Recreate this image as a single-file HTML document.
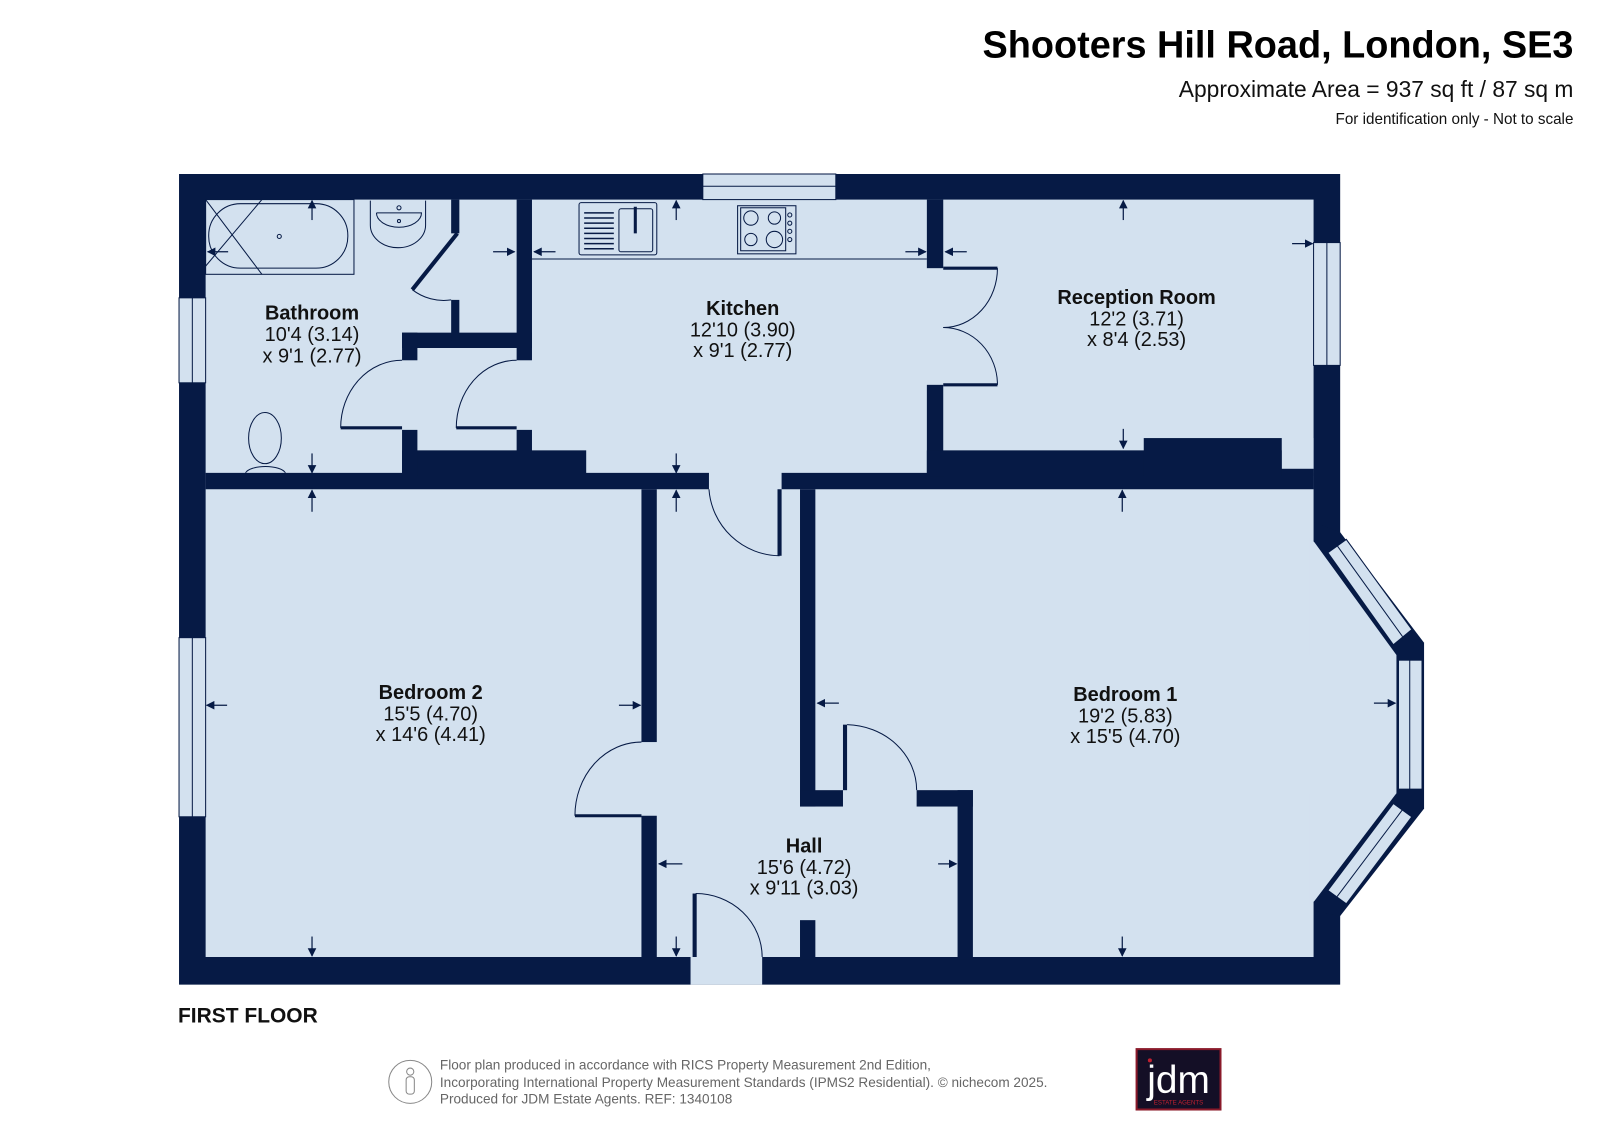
<!DOCTYPE html>
<html><head><meta charset="utf-8"><style>
html,body{margin:0;padding:0;background:#fff;}
svg{display:block;}
text{font-family:"Liberation Sans",Arial,sans-serif;}
</style></head><body>
<svg width="1599" height="1131" viewBox="0 0 1563 1105" preserveAspectRatio="none" xmlns="http://www.w3.org/2000/svg">
<defs>
<marker id="ah" viewBox="0 0 10 10" refX="9" refY="5" markerWidth="7" markerHeight="7" orient="auto"><path d="M0,0L10,5L0,10z" fill="#061a45"/></marker>
</defs>
<rect width="1563" height="1105" fill="#fff"/>
<!-- header -->
<text x="1538" y="56" text-anchor="end" font-size="37" font-weight="bold" fill="#000">Shooters Hill Road, London, SE3</text>
<text x="1538" y="95" text-anchor="end" font-size="22.3" fill="#111">Approximate Area = 937 sq ft / 87 sq m</text>
<text x="1538" y="121" text-anchor="end" font-size="14.9" fill="#111">For identification only - Not to scale</text>

<!-- outer wall -->
<rect x="175" y="170" width="1135" height="792" fill="#061a45"/>
<polygon points="1284,510 1310,520 1392,628 1392,790 1310,895 1284,890" fill="#061a45"/>
<!-- interior -->
<rect x="201" y="195" width="1083" height="740" fill="#d3e1ef"/>
<polygon points="1280,525 1285,530 1365,640 1365,775 1285,880 1280,885" fill="#d3e1ef"/>
<!-- bay windows -->
<g fill="#d3e1ef" stroke="#061a45" stroke-width="1">
<polygon points="1298,540 1316,527 1380,615 1362,630"/>
<line x1="1307" y1="533" x2="1371" y2="622"/>
<rect x="1367" y="645" width="23" height="126"/>
<line x1="1378" y1="645" x2="1378" y2="771"/>
<polygon points="1362,785 1380,798 1316,883 1298,870"/>
<line x1="1371" y1="791" x2="1307" y2="876"/>
</g>
<!-- windows -->
<g fill="#d3e1ef" stroke="#061a45" stroke-width="1">
<rect x="687" y="170" width="130" height="25"/><line x1="687" y1="182" x2="817" y2="182"/>
<rect x="175" y="291" width="26" height="83"/><line x1="188" y1="291" x2="188" y2="374"/>
<rect x="175" y="623" width="26" height="175"/><line x1="188" y1="623" x2="188" y2="798"/>
<rect x="1284" y="237" width="26" height="120"/><line x1="1297" y1="237" x2="1297" y2="357"/>
</g>
<rect x="675" y="935" width="70" height="27" fill="#d3e1ef"/>

<!-- internal walls -->
<g fill="#061a45">
<rect x="201" y="462" width="492" height="16"/>
<rect x="764" y="462" width="520" height="16"/>
<rect x="393" y="440" width="180" height="25"/>
<rect x="505" y="195" width="15" height="157"/>
<rect x="505" y="420" width="15" height="25"/>
<rect x="393" y="325" width="127" height="15"/>
<rect x="393" y="325" width="15" height="27"/>
<rect x="393" y="420" width="15" height="45"/>
<rect x="441" y="195" width="8" height="33"/>
<rect x="441" y="293" width="8" height="40"/>
<rect x="906" y="195" width="16" height="67"/>
<rect x="906" y="376" width="16" height="90"/>
<rect x="906" y="440" width="378" height="25"/>
<rect x="1118" y="428" width="135" height="37"/>
<rect x="627" y="478" width="15" height="247"/>
<rect x="627" y="797" width="15" height="140"/>
<rect x="782" y="478" width="15" height="310"/>
<rect x="782" y="772" width="42" height="16"/>
<rect x="896" y="772" width="55" height="16"/>
<rect x="936" y="772" width="15" height="165"/>
<rect x="782" y="899" width="15" height="38"/>
<rect x="677" y="873" width="4" height="62"/>
<rect x="824" y="708" width="4" height="64"/>
<rect x="760" y="478" width="4" height="65"/>
</g>
<rect x="1253" y="428" width="31" height="30" fill="#d3e1ef"/>

<!-- door arcs and leaves -->
<g fill="none" stroke="#061a45" stroke-width="1">
<path d="M693,478 A70,70 0 0 0 762,543"/>
<path d="M562,797 A65,72 0 0 1 627,725"/>
<path d="M828,708 A70,64 0 0 1 896,772"/>
<path d="M680,873 A65,62 0 0 1 745,935"/>
<path d="M333,418 A60,66 0 0 1 393,352"/>
<path d="M446,418 A59,66 0 0 1 505,352"/>
<path d="M975,262 A53,58 0 0 1 922,320"/>
<path d="M975,376 A53,56 0 0 0 922,320"/>
<path d="M403,283 A50,50 0 0 0 441,293"/>
</g>
<g stroke="#061a45" stroke-width="3">
<line x1="333" y1="418" x2="393" y2="418"/>
<line x1="446" y1="418" x2="505" y2="418"/>
<line x1="562" y1="797" x2="627" y2="797"/>
<line x1="922" y1="262" x2="975" y2="262"/>
<line x1="922" y1="376" x2="975" y2="376"/>
<line x1="447" y1="228" x2="403" y2="283" stroke-width="4"/>
</g>

<!-- fixtures -->
<g fill="none" stroke="#061a45" stroke-width="1">
<rect x="201" y="195" width="145" height="73"/>
<rect x="204" y="199" width="136" height="63" rx="31"/>
<line x1="201" y1="195" x2="256" y2="268"/><line x1="256" y1="195" x2="201" y2="260"/>
<circle cx="273" cy="231" r="2"/>
<path d="M362,196 L362,220 A27,22 0 0 0 416,220 L416,196"/>
<path d="M368,208 L412,208 A22,14 0 0 1 368,208"/>
<circle cx="390" cy="203" r="2"/><circle cx="390" cy="216" r="1.5"/>
<ellipse cx="259" cy="428" rx="16" ry="25"/>
<path d="M240,462 A20,8 0 0 1 279,462"/>
<line x1="520" y1="253" x2="906" y2="253"/>
<rect x="566" y="198" width="76" height="51" rx="2"/>
<rect x="605" y="204" width="33" height="42" rx="2"/>
<rect x="721" y="201" width="57" height="47"/>
<rect x="724" y="203" width="44" height="42"/>
<circle cx="734" cy="213" r="7"/><circle cx="757" cy="213" r="6"/>
<circle cx="734" cy="234" r="6"/><circle cx="757" cy="234" r="8"/>
<circle cx="772" cy="210" r="2"/><circle cx="772" cy="218" r="2"/><circle cx="772" cy="226" r="2"/><circle cx="772" cy="234" r="2"/>
</g>
<g stroke="#061a45" stroke-width="1.5">
<line x1="571" y1="208" x2="600" y2="208"/><line x1="571" y1="213" x2="600" y2="213"/><line x1="571" y1="218" x2="600" y2="218"/><line x1="571" y1="223" x2="600" y2="223"/><line x1="571" y1="228" x2="600" y2="228"/><line x1="571" y1="233" x2="600" y2="233"/><line x1="571" y1="238" x2="600" y2="238"/><line x1="571" y1="243" x2="600" y2="243"/>
<line x1="621" y1="202" x2="621" y2="228" stroke-width="3"/>
</g>

<!-- dimension arrows -->
<g stroke="#061a45" stroke-width="1.2" marker-end="url(#ah)">
<line x1="305" y1="215" x2="305" y2="196"/>
<line x1="223" y1="246" x2="203" y2="246"/>
<line x1="305" y1="443" x2="305" y2="462"/>
<line x1="482" y1="246" x2="503" y2="246"/>
<line x1="543" y1="246" x2="522" y2="246"/>
<line x1="661" y1="215" x2="661" y2="196"/>
<line x1="661" y1="443" x2="661" y2="462"/>
<line x1="885" y1="246" x2="905" y2="246"/>
<line x1="945" y1="246" x2="924" y2="246"/>
<line x1="1098" y1="215" x2="1098" y2="196"/>
<line x1="1098" y1="419" x2="1098" y2="438"/>
<line x1="1263" y1="238" x2="1283" y2="238"/>
<line x1="305" y1="500" x2="305" y2="479"/>
<line x1="222" y1="689" x2="202" y2="689"/>
<line x1="605" y1="689" x2="626" y2="689"/>
<line x1="305" y1="915" x2="305" y2="934"/>
<line x1="661" y1="500" x2="661" y2="479"/>
<line x1="667" y1="844" x2="644" y2="844"/>
<line x1="917" y1="844" x2="935" y2="844"/>
<line x1="661" y1="915" x2="661" y2="934"/>
<line x1="1097" y1="500" x2="1097" y2="479"/>
<line x1="820" y1="687" x2="799" y2="687"/>
<line x1="1343" y1="687" x2="1364" y2="687"/>
<line x1="1097" y1="915" x2="1097" y2="934"/>
</g>

<!-- labels -->
<g font-size="19.5" fill="#111" text-anchor="middle">
<text x="305" y="312" font-weight="bold">Bathroom</text><text x="305" y="333">10'4 (3.14)</text><text x="305" y="354">x 9'1 (2.77)</text>
<text x="726" y="308" font-weight="bold">Kitchen</text><text x="726" y="329">12'10 (3.90)</text><text x="726" y="349">x 9'1 (2.77)</text>
<text x="1111" y="297" font-weight="bold">Reception Room</text><text x="1111" y="318">12'2 (3.71)</text><text x="1111" y="338">x 8'4 (2.53)</text>
<text x="421" y="683" font-weight="bold">Bedroom 2</text><text x="421" y="704">15'5 (4.70)</text><text x="421" y="724">x 14'6 (4.41)</text>
<text x="1100" y="685" font-weight="bold">Bedroom 1</text><text x="1100" y="706">19'2 (5.83)</text><text x="1100" y="726">x 15'5 (4.70)</text>
<text x="786" y="833" font-weight="bold">Hall</text><text x="786" y="854">15'6 (4.72)</text><text x="786" y="874">x 9'11 (3.03)</text>
</g>
<text x="174" y="999" font-size="20.5" font-weight="bold" fill="#111">FIRST FLOOR</text>

<!-- footer -->
<circle cx="401" cy="1057" r="21" fill="none" stroke="#888" stroke-width="1"/>
<circle cx="401" cy="1047" r="3.5" fill="none" stroke="#888"/>
<rect x="397" y="1052" width="8" height="17" rx="3" fill="none" stroke="#888"/>
<g font-size="13.3" fill="#666">
<text x="430" y="1045">Floor plan produced in accordance with RICS Property Measurement 2nd Edition,</text>
<text x="430" y="1062">Incorporating International Property Measurement Standards (IPMS2 Residential).   © nichecom 2025.</text>
<text x="430" y="1078">Produced for JDM Estate Agents.   REF: 1340108</text>
</g>
<rect x="1111" y="1025" width="82" height="59" fill="#140f26" stroke="#8a1a2a" stroke-width="2"/>
<text x="1152" y="1068" text-anchor="middle" font-family="Liberation Serif,serif" font-size="38" fill="#fff">jdm</text>
<circle cx="1124" cy="1036" r="2" fill="#c02030"/>
<text x="1152" y="1079" text-anchor="middle" font-size="6" fill="#c02030">ESTATE AGENTS</text>
</svg>
</body></html>
